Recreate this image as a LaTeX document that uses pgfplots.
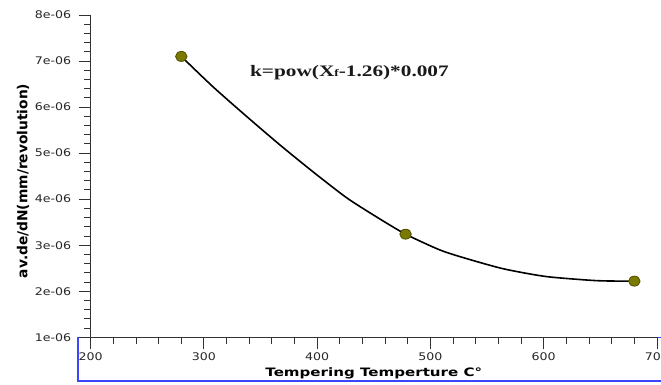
\documentclass[border=0pt]{standalone}
\usepackage{fontspec}
\setmainfont{DejaVu Sans}[FakeStretch=1.2]
\newfontfamily\xlabfont{DejaVu Sans}[FakeStretch=1.3]
\newfontfamily\ylabfont{DejaVu Sans}
\newfontfamily\eqfont{Liberation Serif}[FakeStretch=1.33]
\usepackage{pgfplots}
\pgfplotsset{compat=1.18}
\definecolor{olivemk}{RGB}{122,122,0}
\definecolor{olivedk}{RGB}{80,80,0}
\definecolor{frameblue}{RGB}{60,70,255}
\definecolor{axgray}{RGB}{50,50,50}
\begin{document}
\begin{tikzpicture}
\draw[frameblue, line width=1.5pt] (-12.7pt,-43.8pt) rectangle (590pt,0pt);
\begin{axis}[
  at={(0pt,0pt)}, anchor=south west,
  scale only axis, width=566.3pt, height=322.3pt,
  xmin=200, xmax=700, ymin=1e-6, ymax=8e-6,
  axis x line*=bottom, axis y line*=left,
  axis line style={axgray, line width=1.1pt},
  every tick/.style={axgray, line width=1pt},
  tick align=outside,
  major tick length=12pt, minor tick length=6.5pt,
  xtick={200,300,400,500,600,700},
  minor x tick num=4,
  ytick={1e-6,2e-6,3e-6,4e-6,5e-6,6e-6,7e-6,8e-6},
  yticklabels={1e-06,2e-06,3e-06,4e-06,5e-06,6e-06,7e-06,8e-06},
  minor y tick num=4,
  scaled y ticks=false,
  /pgf/number format/assume math mode=true,
  ticklabel style={font=\fontsize{10.5}{11}\selectfont, text=black!85},
  yticklabel style={xshift=-4pt},
  xlabel={\xlabfont\bfseries Tempering Temperture C°},
  every axis x label/.style={at={(rel axis cs:0.5,0)}, anchor=base, yshift=-39.7pt, font=\fontsize{11.6}{12}\selectfont},
  ylabel={\ylabfont\bfseries av.de/dN(mm/revolution)},
  every axis y label/.style={at={(rel axis cs:0,0.485)}, xshift=-67.7pt, rotate=90, anchor=center, font=\fontsize{13.8}{14}\selectfont},
  clip=false,
]
\addplot[black, line width=1.6pt, smooth, tension=0.4] coordinates {
  (280,7.1e-6) (308,6.44e-6) (338,5.79e-6) (367,5.18e-6) (396,4.6e-6) (426,4.03e-6)
  (452,3.62e-6) (478,3.24e-6) (508,2.9e-6) (529,2.73e-6) (564,2.49e-6) (602,2.32e-6)
  (647,2.23e-6) (680,2.22e-6)
};
\addplot[only marks, mark=*, mark size=5pt, mark options={fill=olivemk, draw=olivedk, line width=0.8pt, xscale=1.15}] coordinates {
  (280,7.1e-6) (478,3.24e-6) (680,2.22e-6)
};
\node[anchor=base west, inner sep=0pt, font=\eqfont\bfseries\fontsize{16}{16}\selectfont, text=black!90] at (axis cs:340.6,6.66e-6) {k=pow(X{\fontsize{10}{10}\selectfont f}-1.26)*0.007};
\end{axis}
\pgfresetboundingbox
\useasboundingbox (-90.7pt,-47.7pt) rectangle (570.3pt,337.3pt);
\end{tikzpicture}
\end{document}
